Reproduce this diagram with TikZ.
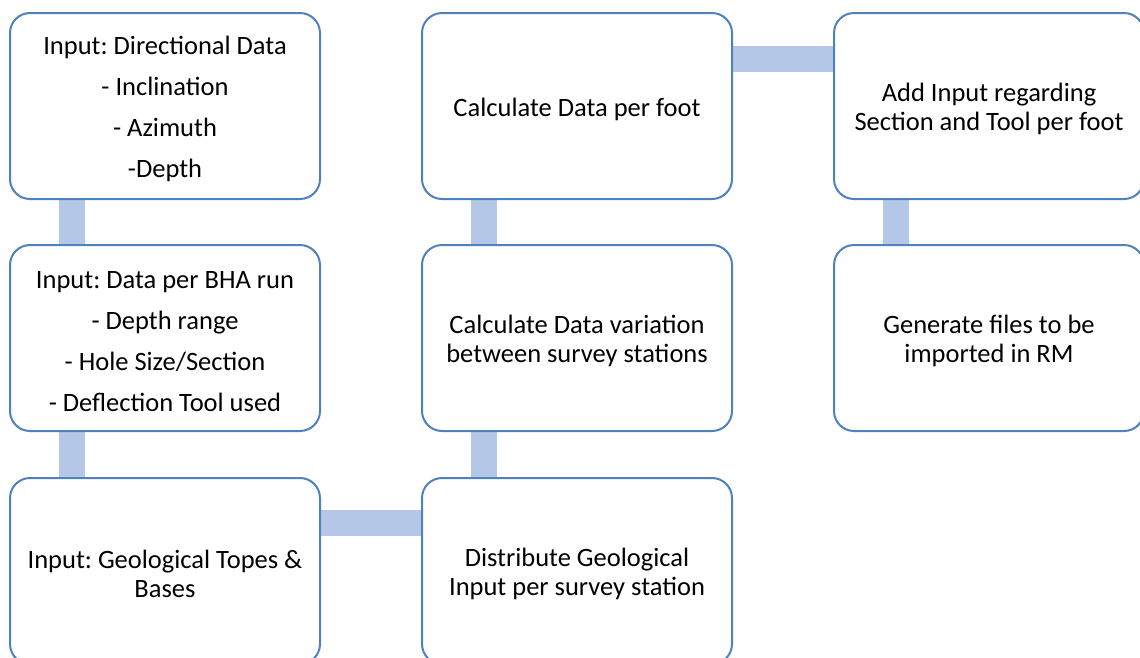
\documentclass[tikz,border=0pt]{standalone}
\usepackage{fontspec}
\setmainfont{Carlito}
\usetikzlibrary{calc,backgrounds}
\definecolor{edgeblue}{HTML}{4F81BD}
\definecolor{barblue}{HTML}{B4C7E7}
\frenchspacing
% a tall strut on the first line nudges the text block slightly downwards
\newcommand\firstline{\rule{0pt}{25pt}}
\begin{document}
\begin{tikzpicture}[x=1pt,y=-1pt,
  stepbox/.style={draw=edgeblue, line width=2pt, fill=white, rounded corners=20pt,
    minimum width=310pt, minimum height=186pt, align=center, inner sep=0pt,
    font=\fontsize{26.5}{29}\selectfont},
  bar/.style={draw=barblue, line width=26pt}]
\useasboundingbox (0,0) rectangle (1140,657);
% boxes of the workflow
\node[stepbox] (dir)  at (165,106) {\firstline Input: Directional Data\\[12pt] - Inclination\\[12pt] - Azimuth\\[12pt] -Depth};
\node[stepbox] (bha)  at (165,338) {\firstline Input: Data per BHA run\\[12pt] - Depth range\\[12pt] - Hole Size/Section\\[12pt] - Deflection Tool used};
\node[stepbox] (geo)  at (165,571) {\firstline Input: Geological Topes \&\\Bases};
\node[stepbox] (dist) at (577,571) {\firstline Distribute Geological\\Input per survey station};
\node[stepbox] (var)  at (577,338) {\firstline Calculate Data variation\\between survey stations};
\node[stepbox] (foot) at (577,106) {\firstline Calculate Data per foot};
\node[stepbox] (add)  at (989,106) {\firstline Add Input regarding\\Section and Tool per foot};
\node[stepbox] (gen)  at (989,338) {\firstline Generate files to be\\imported in RM};
% connecting bars, behind the boxes
\begin{scope}[on background layer]
\draw[bar] ($(dir.south west)+(63,0)$) -- ($(bha.north west)+(63,0)$);
\draw[bar] ($(bha.south west)+(63,0)$) -- ($(geo.north west)+(63,0)$);
\draw[bar] ($(geo.north east)+(0,45.5)$) -- ($(dist.north west)+(0,45.5)$);
\draw[bar] ($(dist.north west)+(63,0)$) -- ($(var.south west)+(63,0)$);
\draw[bar] ($(var.north west)+(63,0)$) -- ($(foot.south west)+(63,0)$);
\draw[bar] ($(foot.north east)+(0,46.5)$) -- ($(add.north west)+(0,46.5)$);
\draw[bar] ($(add.south west)+(63,0)$) -- ($(gen.north west)+(63,0)$);
\end{scope}
\end{tikzpicture}
\end{document}
